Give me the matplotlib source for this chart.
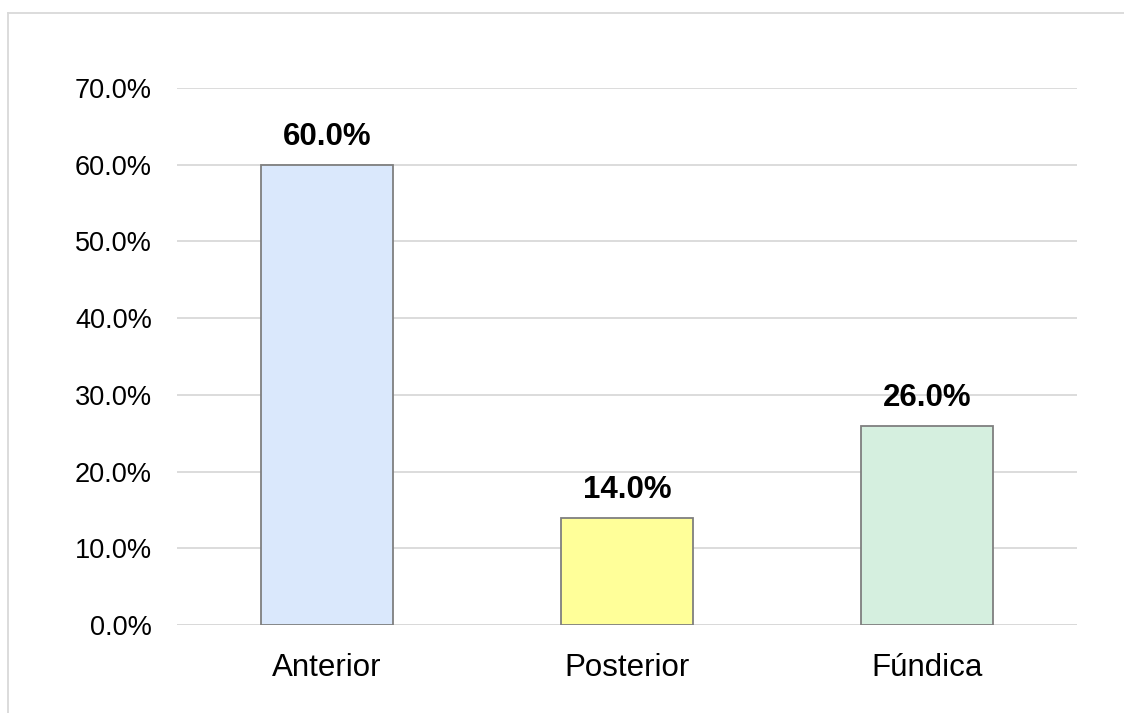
import matplotlib
matplotlib.use("Agg")
import matplotlib.pyplot as plt
from matplotlib.ticker import FuncFormatter, MultipleLocator
from matplotlib.lines import Line2D

plt.rcParams['font.family'] = ['Liberation Sans', 'DejaVu Sans']

categories = ["Anterior", "Posterior", "Fúndica"]
values = [60.0, 14.0, 26.0]
bar_colors = ["#dae8fc", "#ffff99", "#d5efdf"]

fig = plt.figure(figsize=(11.24, 7.13), dpi=100)
ax = fig.add_axes([0.1575, 0.1234, 0.8007, 0.7532])

x = range(len(categories))
bars = ax.bar(x, values, width=0.443, color=bar_colors,
              edgecolor="#7f7f7f", linewidth=1.3, zorder=3)

for b, v in zip(bars, values):
    ax.annotate(f"{v:.1f}%", (b.get_x() + b.get_width() / 2, v),
                xytext=(0, 9), textcoords="offset points",
                ha="center", va="bottom", fontsize=22.5, fontweight="bold")

ax.set_xlim(-0.5, len(categories) - 0.5)
ax.set_ylim(0, 70)
ax.yaxis.set_major_locator(MultipleLocator(10))
ax.yaxis.set_major_formatter(FuncFormatter(lambda v, p: f"{v:.1f}%"))
ax.set_xticks(list(x))
ax.set_xticklabels(categories)
ax.tick_params(axis="both", length=0)
ax.tick_params(axis="y", pad=18, labelsize=19.5)
ax.tick_params(axis="x", pad=20, labelsize=22.5)
ax.grid(axis="y", color="#d9d9d9", linewidth=1.3, zorder=0)
for s in ax.spines.values():
    s.set_visible(False)
ax.axhline(0, color="#d9d9d9", linewidth=1.3, zorder=2)

# Outer chart-area frame
fig.add_artist(Line2D([8 / 1124, 1.0], [1 - 13 / 713, 1 - 13 / 713],
                      transform=fig.transFigure, color="#d9d9d9", linewidth=1.3))
fig.add_artist(Line2D([8 / 1124, 8 / 1124], [0.0, 1 - 13 / 713],
                      transform=fig.transFigure, color="#d9d9d9", linewidth=1.3))

fig.savefig("out.png", dpi=100)
